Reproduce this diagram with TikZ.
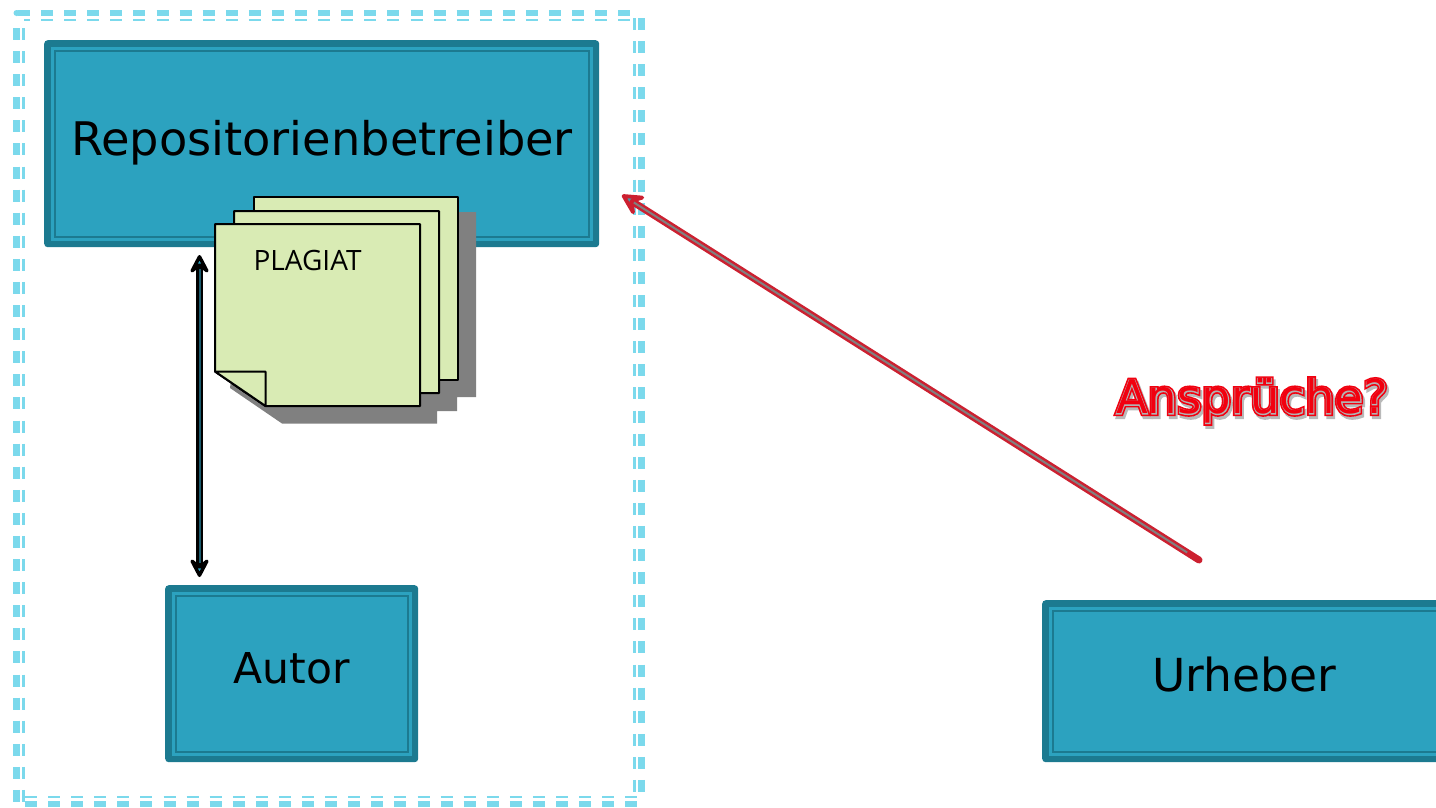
\documentclass[tikz,border=0pt]{standalone}
\usepackage{fontspec}
\usetikzlibrary{arrows.meta}
\setmainfont{DejaVu Sans}
\newfontfamily\noteface{Open Sans}
\newfontfamily\claimglow[FakeBold=10]{DejaVu Sans}
\newfontfamily\claimline[FakeBold=3]{DejaVu Sans}
\definecolor{boxfill}{HTML}{2CA2BF}
\definecolor{boxedge}{HTML}{1C7A90}
\definecolor{framecol}{HTML}{7BD9EC}
\definecolor{sheetcol}{HTML}{D9EBB4}
\definecolor{claimred}{HTML}{F2000F}
\definecolor{arrowred}{HTML}{CC2030}
\definecolor{corecol}{HTML}{1A5A6C}
\tikzset{
  rolebox/.style={fill=boxedge,rounded corners=3.5,inner sep=0,anchor=north west,
    path picture={
      \fill[boxfill,sharp corners] ([shift={(6.5,6.5)}]path picture bounding box.north west)
        rectangle ([shift={(-6.5,-6.5)}]path picture bounding box.south east);
      \draw[boxedge,line width=2,sharp corners] ([shift={(10.3,10.5)}]path picture bounding box.north west)
        rectangle ([shift={(-10.3,-10.5)}]path picture bounding box.south east);
    }},
  rolelabel/.style={font=\fontsize{46.3}{46}\selectfont,text=black,anchor=base},
  sheet/.style={draw=black,line width=2,fill=sheetcol,line join=round},
  framedash/.style={framecol,dash pattern=on 12 off 11.09},
  authortip/.tip={Stealth[length=24pt,width=25pt,inset=10pt,line width=3.4pt,round,fill=boxfill]},
  claimtip/.tip={Stealth[length=28pt,width=29pt,inset=12pt,line width=3.8pt,round,fill=boxfill!60!gray]},
  authorlink/.style={line width=6.5,draw=black,authortip-authortip},
  claimlink/.style={line width=7,draw=arrowred,line cap=round,-claimtip},
  linkcore/.style={line width=2,shorten <=#1,shorten >=#1},
}
\begin{document}
\begin{tikzpicture}[x=1pt,y=-1pt]
  \useasboundingbox (0,0) rectangle (1436,807);
  % dashed frame
  \foreach \wd/\xa/\ya/\xb/\yb/\ph in {
    6/18/13/638/13/0, 2.8/24/20/638/20/6,
    7/16.5/28/16.5/803/0, 3/23.5/28/23.5/803/0,
    7/641.5/18/641.5/803/0, 3/634.5/18/634.5/803/0,
    6.5/25/804/640/804/0, 2.8/25/797/640/797/0}{
    \draw[framedash,dash phase=\ph,line width=\wd] (\xa,\ya) -- (\xb,\yb);
  }
  \fill[framecol,rounded corners=3] (13.5,16) -- (13.5,10) -- (20,10) -- (20,16) -- cycle;
  % boxes
  \node[rolebox,minimum width=555,minimum height=207] (repo) at (44,40) {};
  \node[rolebox,minimum width=253,minimum height=177] (autor) at (165,585) {};
  \node[rolebox,minimum width=420,minimum height=162] (urheber) at (1042,600) {};
  \node[rolelabel] (repotext) at (322,155.5) {Repositorienbetreiber};
  \node[rolelabel,font=\fontsize{42.5}{42}\selectfont] (autortext) at (291.5,683) {Autor};
  \node[rolelabel,font=\fontsize{45.5}{45}\selectfont] (urhebertext) at (1244,691.5) {Urheber};
  % sheets
  \fill[gray] (254,212) -- (476,212) -- (476,397) -- (457,397) -- (457,411)
    -- (437,411) -- (437,423.5) -- (282,423.5) -- (230,388) -- cycle;
  \draw[sheet] (254,197) rectangle (458,380);
  \draw[sheet] (234,211) -- (439,211) -- (439,393) -- (246.5,393) -- (234,384.5) -- cycle;
  \draw[sheet] (215,224) -- (420,224) -- (420,406) -- (265.5,406) -- (215,371.5) -- cycle;
  \draw[sheet] (215,371.5) -- (265.5,371.5) -- (265.5,406) -- cycle;
  \node[font=\noteface\fontsize{28}{28}\selectfont] (plagiat) at (307.5,260) {PLAGIAT};
  % arrows
  \coordinate (linktop) at (199.5,255);
  \coordinate (linkbottom) at (199.5,577);
  \draw[authorlink] (linktop) -- (linkbottom);
  \draw[linkcore=14,corecol] (linktop) -- (linkbottom);
  \coordinate (claimstart) at (1199,560);
  \coordinate (claimend) at (622,195);
  \draw[claimlink] (claimstart) -- (claimend);
  \draw[linkcore=14,gray] (claimstart) -- (claimend);
  % label
  \node[gray!55,font=\claimglow\fontsize{46.5}{46}\selectfont] (claimshadow) at (1254,404) {Ansprüche?};
  \node[claimred,font=\claimglow\fontsize{46.5}{46}\selectfont] (claimback) at (1252,401) {Ansprüche?};
  \node[gray!60!white,font=\claimline\fontsize{46.5}{46}\selectfont] (claimmid) at (1252,401) {Ansprüche?};
  \node[claimred,font=\fontsize{46.5}{46}\selectfont] (claim) at (1252,401) {Ansprüche?};
\end{tikzpicture}
\end{document}
